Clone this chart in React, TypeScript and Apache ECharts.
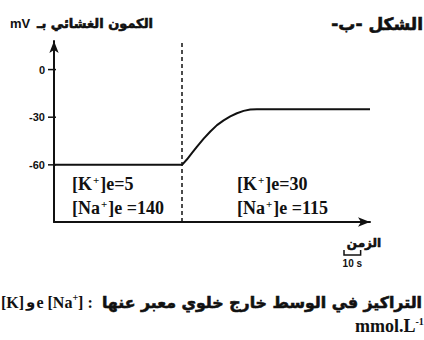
import React, { useEffect, useRef } from "react";
import * as echarts from "echarts";

// ---- data ----
const timeS = [0, 77, 80, 83, 86, 90, 94, 98, 102, 106, 110, 114, 118, 122, 190];
const potentialMV = [-60, -60, -56.5, -52.5, -48.5, -43.5, -39, -35, -32, -29.5, -27.5, -26, -25.2, -25, -25];
const switchTime = 77;
const yTickValues = [0, -30, -60];
const yMin = -96;
const yMax = 18;
const xMax = 190;
const scaleBarSeconds = 10;
const kBefore = 5;
const naBefore = 140;
const kAfter = 30;
const naAfter = 115;

const title = "\u200Fالشكل -ب-\u200F";
const yUnit = "mV";
const yName = "الكمون الغشائي بـ";
const xName = "الزمن";
const noteArabic = "التراكيز في الوسط خارج خلوي معبر عنها";
const noteAnd = "و";
const unitText = "mmol.L";

const SERIF = "'Liberation Serif', 'Times New Roman', serif";
const SANS = "'Liberation Sans', Arial, sans-serif";
const ARABIC = "'DejaVu Sans', sans-serif";
const INK = "#111";

function ionText(x: number, y: number, ion: string, rest: string) {
  return {
    type: "text",
    x,
    y,
    style: {
      text: `{a|[${ion}}{s|+}{a|]${rest}}`,
      fill: INK,
      align: "left",
      verticalAlign: "middle",
      rich: {
        a: { fontFamily: SERIF, fontWeight: "bold", fontSize: 18, fill: INK, lineHeight: 20 },
        s: { fontFamily: SERIF, fontWeight: "bold", fontSize: 11, fill: INK, lineHeight: 9, verticalAlign: "top", padding: [0, 1, 0, 1] },
      },
    },
  };
}

function arabicStyle(size: number) {
  return { font: `bold ${size}px ${ARABIC}`, fill: INK, stroke: INK, lineWidth: 0.6 };
}

export default function App() {
  const ref = useRef<HTMLDivElement>(null);
  useEffect(() => {
    if (!ref.current) return;
    const chart = echarts.init(ref.current, undefined, { renderer: "svg" });
    const data = timeS.map((t, i) => [t, potentialMV[i]]);
    chart.setOption({
      animation: false,
      backgroundColor: "#fff",
      grid: { left: 54, right: 54, top: 41, bottom: 118 },
      xAxis: {
        type: "value",
        min: 0,
        max: xMax,
        axisLine: { show: true, onZero: false, symbol: ["none", "arrow"], symbolSize: [7, 12], lineStyle: { color: INK, width: 2 } },
        axisTick: { show: false },
        axisLabel: { show: false },
        splitLine: { show: false },
      },
      yAxis: {
        type: "value",
        min: yMin,
        max: yMax,
        axisLine: { show: true, onZero: false, symbol: ["none", "arrow"], symbolSize: [7, 12], lineStyle: { color: INK, width: 2 } },
        axisTick: { show: false },
        axisLabel: {
          show: true,
          customValues: yTickValues,
          margin: 9,
          color: INK,
          fontFamily: SANS,
          fontWeight: "bold",
          fontSize: 11,
        },
        splitLine: { show: false },
      },
      series: [
        {
          type: "line",
          data,
          symbol: "none",
          lineStyle: { color: INK, width: 2 },
          markLine: {
            silent: true,
            symbol: ["none", "none"],
            label: { show: false },
            lineStyle: { color: INK, width: 1.5, type: [4, 3] },
            data: [{ xAxis: switchTime }],
          },
        },
      ],
    });

    const px0 = chart.convertToPixel({ xAxisIndex: 0 }, 0) as number;
    const px1 = chart.convertToPixel({ xAxisIndex: 0 }, scaleBarSeconds) as number;
    const barW = px1 - px0;
    const barX = 344;
    const barY = 255;

    const ticks = yTickValues.map((v) => {
      const py = chart.convertToPixel({ yAxisIndex: 0 }, v) as number;
      return {
        type: "line",
        shape: { x1: px0 - 6, y1: py, x2: px0 + 2, y2: py },
        style: { stroke: INK, lineWidth: 1.5 },
      };
    });

    chart.setOption({
      graphic: [
        ...ticks,
        { type: "text", x: 423, y: 24, style: { text: title, ...arabicStyle(17), align: "right", verticalAlign: "middle" } },
        { type: "text", x: 10, y: 23, style: { text: yUnit, font: `bold 13px ${SANS}`, fill: INK, align: "left", verticalAlign: "middle" } },
        { type: "text", x: 153, y: 23, style: { text: yName, ...arabicStyle(13), align: "right", verticalAlign: "middle" } },
        ionText(72, 184, "K", `e=${kBefore}`),
        ionText(72, 208, "Na", `e =${naBefore}`),
        ionText(237, 184, "K", `e=${kAfter}`),
        ionText(237, 208, "Na", `e =${naAfter}`),
        { type: "text", x: 364, y: 243, style: { text: xName, ...arabicStyle(12), align: "center", verticalAlign: "middle" } },
        {
          type: "polyline",
          shape: { points: [[barX, barY - 5], [barX, barY], [barX + barW, barY], [barX + barW, barY - 5]] },
          style: { stroke: INK, lineWidth: 1.5, fill: "none" },
        },
        { type: "text", x: barX + barW / 2, y: 263, style: { text: `${scaleBarSeconds} s`, font: `bold 10px ${SANS}`, fill: INK, align: "center", verticalAlign: "middle" } },
        {
          type: "text",
          x: 1,
          y: 302,
          style: {
            text: `{a|[K]}{r|${noteAnd}}{a|e [Na}{s|+}{a|] :}`,
            align: "left",
            verticalAlign: "middle",
            rich: {
              a: { fontFamily: SERIF, fontWeight: "bold", fontSize: 16, fill: INK, lineHeight: 20 },
              r: { fontFamily: ARABIC, fontWeight: "bold", fontSize: 15, fill: INK, lineHeight: 20, padding: [0, 1, 0, 2] },
              s: { fontFamily: SERIF, fontWeight: "bold", fontSize: 10, fill: INK, lineHeight: 9, verticalAlign: "top" },
            },
          },
        },
        { type: "text", x: 422, y: 302, style: { text: noteArabic, ...arabicStyle(15.8), align: "right", verticalAlign: "middle" } },
        {
          type: "text",
          x: 355,
          y: 326,
          style: {
            text: `{a|${unitText}}{s|-1}`,
            align: "left",
            verticalAlign: "middle",
            rich: {
              a: { fontFamily: SERIF, fontWeight: "bold", fontSize: 18, fill: INK, lineHeight: 20 },
              s: { fontFamily: SERIF, fontWeight: "bold", fontSize: 10, fill: INK, lineHeight: 9, verticalAlign: "top" },
            },
          },
        },
      ],
    });
    return () => chart.dispose();
  }, []);
  return (
    <div
      ref={ref}
      style={{ position: "fixed", left: 0, top: 0, width: 424, height: 340, background: "#fff" }}
    />
  );
}
